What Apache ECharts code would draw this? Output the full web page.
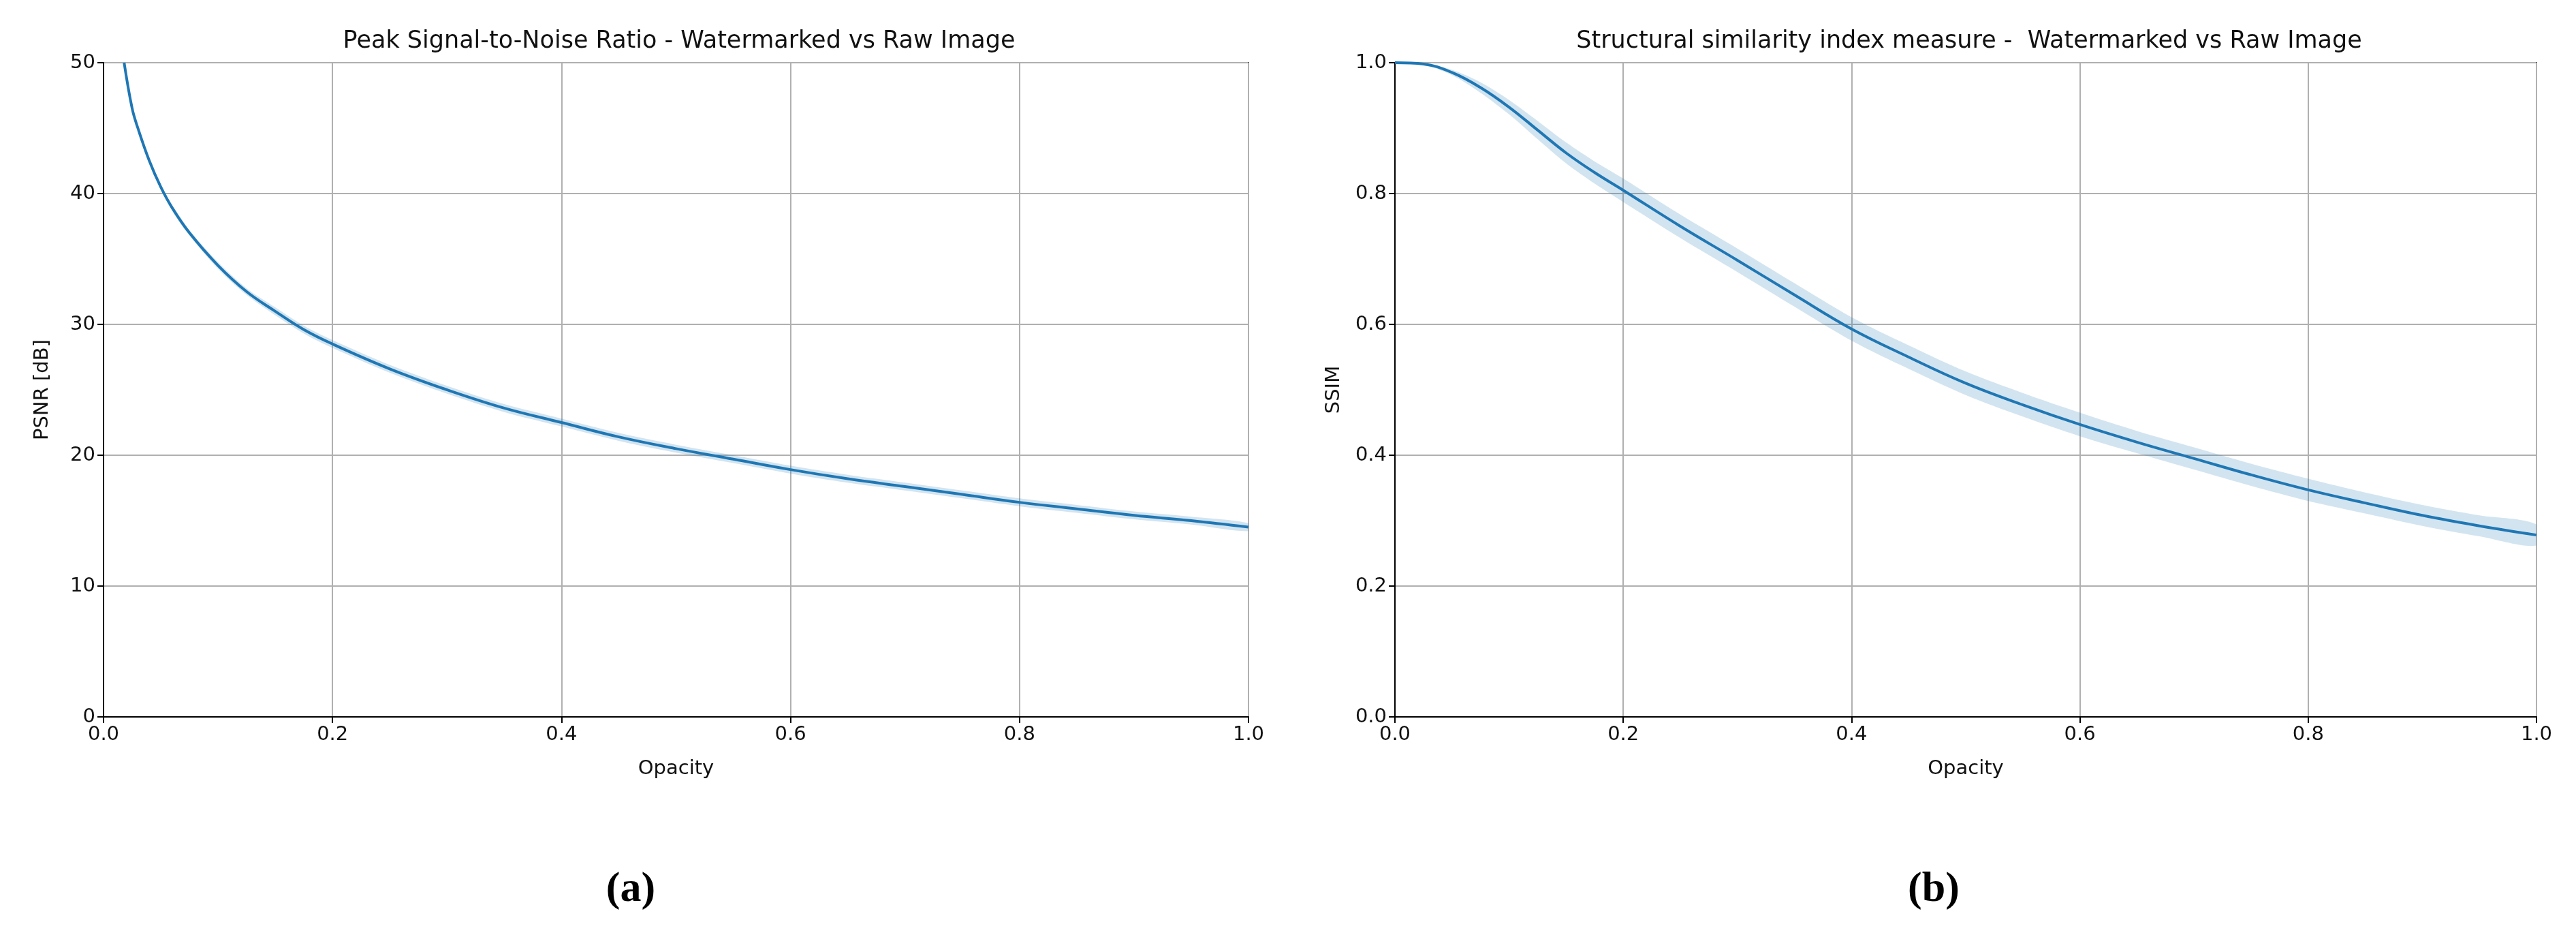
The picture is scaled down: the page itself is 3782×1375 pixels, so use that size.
<!DOCTYPE html>
<html>
<head>
<meta charset="utf-8">
<script src="https://cdn.jsdelivr.net/npm/echarts@6/dist/echarts.min.js"></script>
<style>
  html, body { margin: 0; padding: 0; background: #fff; }
  #main { width: 3782px; height: 1375px; }
</style>
</head>
<body>
<div id="main"></div>
<script>
// PSNR panel (a)
var psnrX    = [0.018, 0.025, 0.03, 0.04, 0.05, 0.06, 0.075, 0.1, 0.125, 0.15, 0.175, 0.2, 0.25, 0.3, 0.35, 0.4, 0.45, 0.5, 0.55, 0.6, 0.65, 0.7, 0.75, 0.8, 0.85, 0.9, 0.95, 1.0];
var psnrY    = [50, 46.5, 45, 42.5, 40.5, 38.9, 37, 34.5, 32.5, 31, 29.6, 28.5, 26.6, 25.0, 23.6, 22.5, 21.4, 20.5, 19.7, 18.9, 18.2, 17.6, 17.0, 16.4, 15.9, 15.4, 15.0, 14.5];
var psnrBand = [0.1, 0.1, 0.1, 0.15, 0.15, 0.2, 0.2, 0.25, 0.25, 0.3, 0.3, 0.3, 0.3, 0.3, 0.3, 0.3, 0.3, 0.3, 0.3, 0.3, 0.3, 0.3, 0.3, 0.3, 0.3, 0.3, 0.3, 0.3];

// SSIM panel (b)
var ssimX    = [0, 0.025, 0.05, 0.075, 0.1, 0.125, 0.15, 0.175, 0.2, 0.25, 0.3, 0.35, 0.4, 0.45, 0.5, 0.55, 0.6, 0.65, 0.7, 0.75, 0.8, 0.85, 0.9, 0.95, 1.0];
var ssimY    = [1.0, 0.998, 0.985, 0.962, 0.932, 0.897, 0.862, 0.832, 0.805, 0.75, 0.698, 0.645, 0.593, 0.55, 0.51, 0.477, 0.447, 0.42, 0.395, 0.37, 0.347, 0.327, 0.308, 0.292, 0.278];
var ssimBand = [0, 0.001, 0.004, 0.008, 0.011, 0.014, 0.016, 0.017, 0.018, 0.018, 0.018, 0.018, 0.018, 0.018, 0.018, 0.018, 0.018, 0.017, 0.017, 0.017, 0.017, 0.016, 0.016, 0.016, 0.016];

var titleA = 'Peak Signal-to-Noise Ratio - Watermarked vs Raw Image';
var titleB = 'Structural similarity index measure -  Watermarked vs Raw Image';

var blue = '#1f77b4';
var font = 'DejaVu Sans';

function pairs(xs, ys) {
    return xs.map(function (x, i) { return [x, ys[i]]; });
}

function xAxisOf(idx) {
    return {
        type: 'value', gridIndex: idx, min: 0, max: 1, interval: 0.2,
        name: 'Opacity', nameLocation: 'middle', nameGap: 62,
        nameTextStyle: { fontSize: 29, color: '#111', fontFamily: font },
        axisLine: { lineStyle: { color: '#000', width: 2 } },
        axisTick: { show: true, length: 9, lineStyle: { color: '#000', width: 2 } },
        axisLabel: { fontSize: 29, color: '#111', fontFamily: font, margin: 12,
                     formatter: function (v) { return v.toFixed(1); } },
        splitLine: { show: true, lineStyle: { color: '#b0b0b0', width: 2 } }
    };
}
function yAxisOf(idx, max, interval, name, fmt) {
    return {
        type: 'value', gridIndex: idx, min: 0, max: max, interval: interval,
        name: name, nameLocation: 'middle', nameGap: 75, nameRotate: 90,
        nameTextStyle: { fontSize: 29, color: '#111', fontFamily: font },
        axisLine: { show: true, lineStyle: { color: '#000', width: 2 } },
        axisTick: { show: true, length: 9, lineStyle: { color: '#000', width: 2 } },
        axisLabel: { fontSize: 29, color: '#111', fontFamily: font, margin: 12, formatter: fmt },
        splitLine: { show: true, lineStyle: { color: '#b0b0b0', width: 2 } }
    };
}
// band drawn as one polygon through the axis scales
function bandSeries(idx, xs, ys, band) {
    return [
        { type: 'custom', xAxisIndex: idx, yAxisIndex: idx, silent: true, clip: true,
          data: [[0, 0]],
          renderItem: function (params, api) {
              var pts = [], i;
              for (i = 0; i < xs.length; i++) pts.push(api.coord([xs[i], ys[i] + band[i]]));
              for (i = xs.length - 1; i >= 0; i--) pts.push(api.coord([xs[i], ys[i] - band[i]]));
              return { type: 'polygon', shape: { points: pts, smooth: 0.3 },
                       style: { fill: blue, opacity: 0.2 } };
          } },
        { type: 'line', xAxisIndex: idx, yAxisIndex: idx, symbol: 'none', smooth: 0.4,
          data: pairs(xs, ys), lineStyle: { color: blue, width: 4 } }
    ];
}

var chart = echarts.init(document.getElementById('main'));
var option = {
    backgroundColor: '#fff',
    animation: false,
    title: [
        { text: titleA, left: 992, top: 38, textAlign: 'center',
          textStyle: { fontSize: 35, fontWeight: 'normal', color: '#111', fontFamily: font } },
        { text: titleB, left: 2886, top: 38, textAlign: 'center',
          textStyle: { fontSize: 35, fontWeight: 'normal', color: '#111', fontFamily: font } },
        { text: '{p|(}{b|a}{p|)}', left: 921, top: 1270, textAlign: 'center',
          textStyle: { rich: { p: { fontSize: 62, color: '#000', fontFamily: 'Liberation Serif' },
                               b: { fontSize: 62, color: '#000', fontWeight: 'bold', fontFamily: 'Liberation Serif' } } } },
        { text: '{p|(}{b|b}{p|)}', left: 2834, top: 1270, textAlign: 'center',
          textStyle: { rich: { p: { fontSize: 62, color: '#000', fontFamily: 'Liberation Serif' },
                               b: { fontSize: 62, color: '#000', fontWeight: 'bold', fontFamily: 'Liberation Serif' } } } }
    ],
    grid: [
        { left: 152, top: 92, width: 1681, height: 960, show: true, borderColor: '#000', borderWidth: 2 },
        { left: 2048, top: 92, width: 1676, height: 960, show: true, borderColor: '#000', borderWidth: 2 }
    ],
    xAxis: [xAxisOf(0), xAxisOf(1)],
    yAxis: [
        yAxisOf(0, 50, 10, 'PSNR [dB]', function (v) { return String(v); }),
        yAxisOf(1, 1.0, 0.2, 'SSIM', function (v) { return v.toFixed(1); })
    ],
    series: bandSeries(0, psnrX, psnrY, psnrBand).concat(bandSeries(1, ssimX, ssimY, ssimBand))
};
chart.setOption(option);
</script>
</body>
</html>
